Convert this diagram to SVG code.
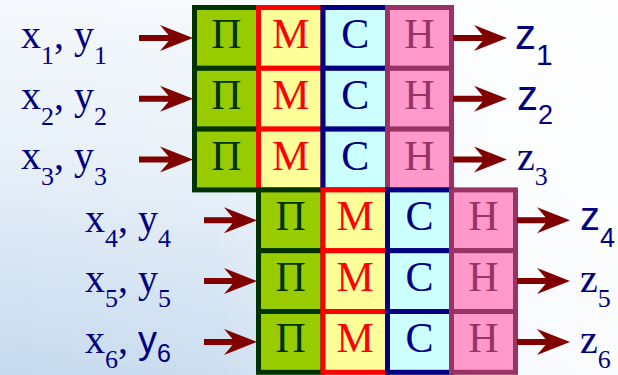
<svg xmlns="http://www.w3.org/2000/svg" width="618" height="375" viewBox="0 0 618 375">
<defs>
<linearGradient id="bg" x1="0" y1="0" x2="0" y2="1">
<stop offset="0" stop-color="#F6F9FC"/>
<stop offset="0.45" stop-color="#E6EFF8"/>
<stop offset="1" stop-color="#C6DAEE"/>
</linearGradient>
<linearGradient id="fade" x1="0" y1="0" x2="1" y2="0">
<stop offset="0" stop-color="#FFFFFF" stop-opacity="0"/>
<stop offset="0.35" stop-color="#FFFFFF" stop-opacity="0.1"/>
<stop offset="0.8" stop-color="#FFFFFF" stop-opacity="0.85"/>
<stop offset="1" stop-color="#FFFFFF" stop-opacity="0.9"/>
</linearGradient>
</defs>
<rect width="618" height="375" fill="url(#bg)"/>
<rect width="618" height="375" fill="url(#fade)"/>

<g id="top-group" stroke-width="5">
<g id="p1" fill="#99CC00" stroke="#003300"><rect x="194.5" y="7.5" width="64" height="60.8"/><text x="226.5" y="48" font-family="Times New Roman" font-size="42" text-anchor="middle" fill="#003300" stroke="none">П</text></g>
<g id="p2" fill="#99CC00" stroke="#003300"><rect x="194.5" y="68.3" width="64" height="60.8"/><text x="226.5" y="108.8" font-family="Times New Roman" font-size="42" text-anchor="middle" fill="#003300" stroke="none">П</text></g>
<g id="p3" fill="#99CC00" stroke="#003300"><rect x="194.5" y="129.1" width="64" height="60.8"/><text x="226.5" y="169.6" font-family="Times New Roman" font-size="42" text-anchor="middle" fill="#003300" stroke="none">П</text></g>
<g id="m1" fill="#FFFF99" stroke="#FF0000"><rect x="258.5" y="7.5" width="64.5" height="60.8"/><text x="290.75" y="48" font-family="Times New Roman" font-size="42" text-anchor="middle" fill="#FF0000" stroke="none">М</text></g>
<g id="m2" fill="#FFFF99" stroke="#FF0000"><rect x="258.5" y="68.3" width="64.5" height="60.8"/><text x="290.75" y="108.8" font-family="Times New Roman" font-size="42" text-anchor="middle" fill="#FF0000" stroke="none">М</text></g>
<g id="m3" fill="#FFFF99" stroke="#FF0000"><rect x="258.5" y="129.1" width="64.5" height="60.8"/><text x="290.75" y="169.6" font-family="Times New Roman" font-size="42" text-anchor="middle" fill="#FF0000" stroke="none">М</text></g>
<g id="c1" fill="#CCFFFF" stroke="#000080"><rect x="323" y="7.5" width="64.5" height="60.8"/><text x="355.25" y="48" font-family="Times New Roman" font-size="42" text-anchor="middle" fill="#000080" stroke="none">С</text></g>
<g id="c2" fill="#CCFFFF" stroke="#000080"><rect x="323" y="68.3" width="64.5" height="60.8"/><text x="355.25" y="108.8" font-family="Times New Roman" font-size="42" text-anchor="middle" fill="#000080" stroke="none">С</text></g>
<g id="c3" fill="#CCFFFF" stroke="#000080"><rect x="323" y="129.1" width="64.5" height="60.8"/><text x="355.25" y="169.6" font-family="Times New Roman" font-size="42" text-anchor="middle" fill="#000080" stroke="none">С</text></g>
<g id="h1" fill="#FF99CC" stroke="#993366"><rect x="387.5" y="7.5" width="64" height="60.8"/><text x="419.5" y="48" font-family="Times New Roman" font-size="42" text-anchor="middle" fill="#993366" stroke="none">Н</text></g>
<g id="h2" fill="#FF99CC" stroke="#993366"><rect x="387.5" y="68.3" width="64" height="60.8"/><text x="419.5" y="108.8" font-family="Times New Roman" font-size="42" text-anchor="middle" fill="#993366" stroke="none">Н</text></g>
<g id="h3" fill="#FF99CC" stroke="#993366"><rect x="387.5" y="129.1" width="64" height="60.8"/><text x="419.5" y="169.6" font-family="Times New Roman" font-size="42" text-anchor="middle" fill="#993366" stroke="none">Н</text></g>
</g>

<g id="bottom-group" stroke-width="5">
<g id="p4" fill="#99CC00" stroke="#003300"><rect x="258.5" y="189.9" width="64.5" height="60.8"/><text x="290.75" y="230.4" font-family="Times New Roman" font-size="42" text-anchor="middle" fill="#003300" stroke="none">П</text></g>
<g id="p5" fill="#99CC00" stroke="#003300"><rect x="258.5" y="250.7" width="64.5" height="60.8"/><text x="290.75" y="291.2" font-family="Times New Roman" font-size="42" text-anchor="middle" fill="#003300" stroke="none">П</text></g>
<g id="p6" fill="#99CC00" stroke="#003300"><rect x="258.5" y="311.5" width="64.5" height="60.8"/><text x="290.75" y="352" font-family="Times New Roman" font-size="42" text-anchor="middle" fill="#003300" stroke="none">П</text></g>
<g id="m4" fill="#FFFF99" stroke="#FF0000"><rect x="323" y="189.9" width="64.5" height="60.8"/><text x="355.25" y="230.4" font-family="Times New Roman" font-size="42" text-anchor="middle" fill="#FF0000" stroke="none">М</text></g>
<g id="m5" fill="#FFFF99" stroke="#FF0000"><rect x="323" y="250.7" width="64.5" height="60.8"/><text x="355.25" y="291.2" font-family="Times New Roman" font-size="42" text-anchor="middle" fill="#FF0000" stroke="none">М</text></g>
<g id="m6" fill="#FFFF99" stroke="#FF0000"><rect x="323" y="311.5" width="64.5" height="60.8"/><text x="355.25" y="352" font-family="Times New Roman" font-size="42" text-anchor="middle" fill="#FF0000" stroke="none">М</text></g>
<g id="c4" fill="#CCFFFF" stroke="#000080"><rect x="387.5" y="189.9" width="64" height="60.8"/><text x="419.5" y="230.4" font-family="Times New Roman" font-size="42" text-anchor="middle" fill="#000080" stroke="none">С</text></g>
<g id="c5" fill="#CCFFFF" stroke="#000080"><rect x="387.5" y="250.7" width="64" height="60.8"/><text x="419.5" y="291.2" font-family="Times New Roman" font-size="42" text-anchor="middle" fill="#000080" stroke="none">С</text></g>
<g id="c6" fill="#CCFFFF" stroke="#000080"><rect x="387.5" y="311.5" width="64" height="60.8"/><text x="419.5" y="352" font-family="Times New Roman" font-size="42" text-anchor="middle" fill="#000080" stroke="none">С</text></g>
<g id="h4" fill="#FF99CC" stroke="#993366"><rect x="451.5" y="189.9" width="64" height="60.8"/><text x="483.5" y="230.4" font-family="Times New Roman" font-size="42" text-anchor="middle" fill="#993366" stroke="none">Н</text></g>
<g id="h5" fill="#FF99CC" stroke="#993366"><rect x="451.5" y="250.7" width="64" height="60.8"/><text x="483.5" y="291.2" font-family="Times New Roman" font-size="42" text-anchor="middle" fill="#993366" stroke="none">Н</text></g>
<g id="h6" fill="#FF99CC" stroke="#993366"><rect x="451.5" y="311.5" width="64" height="60.8"/><text x="483.5" y="352" font-family="Times New Roman" font-size="42" text-anchor="middle" fill="#993366" stroke="none">Н</text></g>
</g>

<g id="connectors" fill="#800000">
<path d="M139,35 H168.5 L160,25 L193,38 L160,51 L168.5,41 H139 Z"/>
<path d="M139,95.7 H168.5 L160,85.7 L193,98.7 L160,111.7 L168.5,101.7 H139 Z"/>
<path d="M139,156.5 H168.5 L160,146.5 L193,159.5 L160,172.5 L168.5,162.5 H139 Z"/>
<path d="M204,217.3 H232.5 L224,207.3 L257,220.3 L224,233.3 L232.5,223.3 H204 Z"/>
<path d="M204,278.1 H232.5 L224,268.1 L257,281.1 L224,294.1 L232.5,284.1 H204 Z"/>
<path d="M204,338.9 H232.5 L224,328.9 L257,341.9 L224,354.9 L232.5,344.9 H204 Z"/>
<path d="M453,35 H482.5 L474,25 L507,38 L474,51 L482.5,41 H453 Z"/>
<path d="M453,95.7 H482.5 L474,85.7 L507,98.7 L474,111.7 L482.5,101.7 H453 Z"/>
<path d="M453,156.5 H482.5 L474,146.5 L507,159.5 L474,172.5 L482.5,162.5 H453 Z"/>
<path d="M517,217.3 H545.5 L537,207.3 L570,220.3 L537,233.3 L545.5,223.3 H517 Z"/>
<path d="M517,278.1 H545.5 L537,268.1 L570,281.1 L537,294.1 L545.5,284.1 H517 Z"/>
<path d="M517,338.9 H545.5 L537,328.9 L570,341.9 L537,354.9 L545.5,344.9 H517 Z"/>
</g>

<g id="inputs" fill="#000080">
<g id="in1"><text x="21" y="48" font-family="Times New Roman" font-size="40">x<tspan font-family="Times New Roman" font-size="26" dy="16">1</tspan><tspan font-family="Times New Roman" dy="-16">, y</tspan><tspan font-family="Times New Roman" font-size="26" dy="16">1</tspan></text></g>
<g id="in2"><text x="21" y="108.5" font-family="Times New Roman" font-size="40">x<tspan font-family="Times New Roman" font-size="26" dy="16">2</tspan><tspan font-family="Times New Roman" dy="-16">, y</tspan><tspan font-family="Times New Roman" font-size="26" dy="16">2</tspan></text></g>
<g id="in3"><text x="21" y="169" font-family="Times New Roman" font-size="40">x<tspan font-family="Times New Roman" font-size="26" dy="16">3</tspan><tspan font-family="Times New Roman" dy="-16">, y</tspan><tspan font-family="Times New Roman" font-size="26" dy="16">3</tspan></text></g>
<g id="in4"><text x="85" y="232" font-family="Times New Roman" font-size="40">x<tspan font-family="Times New Roman" font-size="26" dy="15">4</tspan><tspan font-family="Times New Roman" dy="-15">, y</tspan><tspan font-family="Times New Roman" font-size="26" dy="15">4</tspan></text></g>
<g id="in5"><text x="85" y="292" font-family="Times New Roman" font-size="40">x<tspan font-family="Times New Roman" font-size="26" dy="15">5</tspan><tspan font-family="Times New Roman" dy="-15">, y</tspan><tspan font-family="Times New Roman" font-size="26" dy="15">5</tspan></text></g>
<g id="in6"><text x="85" y="353" font-family="Times New Roman" font-size="40">x<tspan font-family="Times New Roman" font-size="26" dy="15">6</tspan><tspan font-family="Times New Roman" dy="-15">, </tspan><tspan font-family="Arial" font-size="38">y</tspan><tspan dy="9" font-family="Arial" font-size="25">6</tspan></text></g>
</g>

<g id="outputs" fill="#000080">
<g id="out1"><text x="515" y="49" font-family="Arial" font-size="42">z<tspan dy="16" font-family="Arial" font-size="30">1</tspan></text></g>
<g id="out2"><text x="517" y="110" font-family="Arial" font-size="42">z<tspan dy="14" font-family="Arial" font-size="27">2</tspan></text></g>
<g id="out3"><text x="517" y="170" font-family="Times New Roman" font-size="40">z<tspan dy="15" font-family="Times New Roman" font-size="26">3</tspan></text></g>
<g id="out4"><text x="580" y="230" font-family="Arial" font-size="40">z<tspan dy="17" font-family="Arial" font-size="27">4</tspan></text></g>
<g id="out5"><text x="580" y="292" font-family="Times New Roman" font-size="40">z<tspan dy="15" font-family="Times New Roman" font-size="26">5</tspan></text></g>
<g id="out6"><text x="580" y="353" font-family="Times New Roman" font-size="40">z<tspan dy="15" font-family="Times New Roman" font-size="26">6</tspan></text></g>
</g>
</svg>
